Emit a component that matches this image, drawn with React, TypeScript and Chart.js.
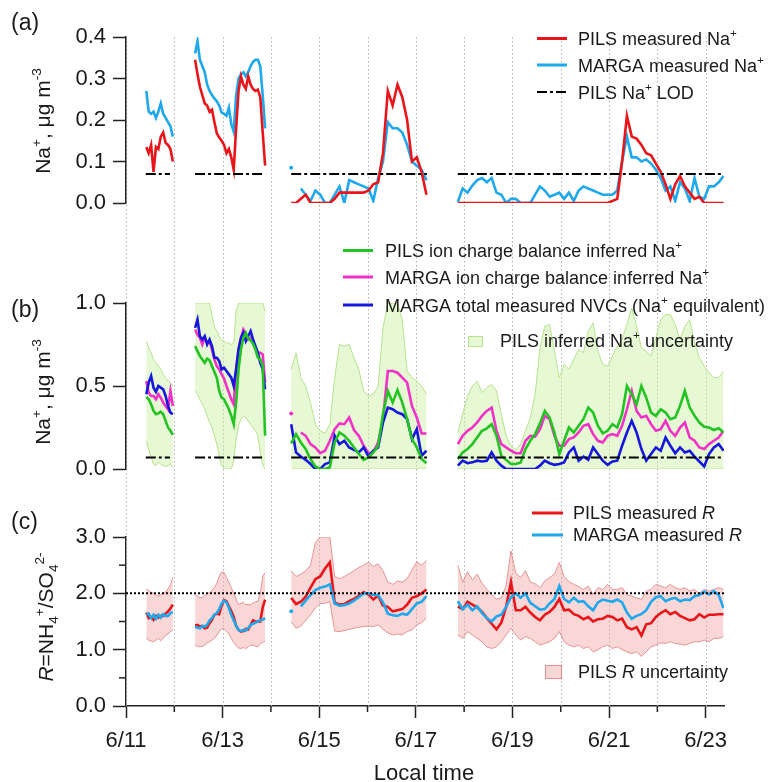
import React, { useEffect, useRef } from "react";
import { Chart, registerables } from "chart.js";

Chart.register(...registerables);

const FONT = "'Liberation Sans', Arial, Helvetica, sans-serif";
const TEXT = "#1a1a1a";
const AXIS = "#222222";

// ---------- time axis (days since 6/11 00:00) ----------
const X_MAX = 12.38;
const DAY_LABELS = ["6/11", "6/12", "6/13", "6/14", "6/15", "6/16", "6/17", "6/18", "6/19", "6/20", "6/21", "6/22", "6/23"];
// sampling of the measured series: four measurement periods
const SEG_START = [0.42, 1.43, 3.42, 6.87];
const SEG_STEP = [0.05, 0.05, 0.1, 0.1];

// ---------- panel (a): measured Na+ (ug m-3) ----------
const pilsNa = [
  [0.135, 0.12, 0.14, 0.075, 0.135, 0.13, 0.16, 0.17, 0.145, 0.14, 0.13, 0.1],
  [0.345, 0.31, 0.28, 0.26, 0.24, 0.235, 0.22, 0.225, 0.195, 0.168, 0.158, 0.15, 0.14, 0.12, 0.13, 0.11, 0.08, 0.18, 0.27, 0.305, 0.285, 0.275, 0.305, 0.285, 0.275, 0.27, 0.273, 0.255, 0.17, 0.09],
  [0, 0, 0.01, 0.02, 0, 0, 0, 0, 0, 0.01, 0.025, 0.025, 0.025, 0.025, 0.025, 0.025, 0.03, 0.045, 0.05, 0.12, 0.27, 0.235, 0.285, 0.255, 0.2, 0.1, 0.11, 0.075, 0.02],
  [0, 0, 0, 0, 0, 0, 0, 0, 0, 0, 0, 0, 0, 0, 0, 0, 0, 0, 0, 0, 0, 0, 0, 0, 0, 0, 0, 0, 0, 0, 0, 0,
    0.005, 0.01, 0.1, 0.21, 0.16, 0.155, 0.14, 0.12, 0.115, 0.095, 0.075, 0.045, 0.01, 0.045, 0.065, 0.04, 0.025, 0.01, 0.015, 0, 0, 0, 0, 0],
];
const margaNa = [
  [0.27, 0.22, 0.215, 0.22, 0.205, 0.22, 0.24, 0.215, 0.205, 0.195, 0.185, 0.16],
  [0.36, 0.39, 0.345, 0.33, 0.315, 0.285, 0.27, 0.26, 0.252, 0.245, 0.235, 0.218, 0.215, 0.21, 0.23, 0.19, 0.172, 0.26, 0.3, 0.31, 0.315, 0.305, 0.315, 0.33, 0.34, 0.345, 0.345, 0.33, 0.26, 0.18],
  [0.085, null, 0.035, 0.02, 0.005, 0.03, 0.02, 0, 0, 0.02, 0.04, 0, 0.055, 0.05, 0.045, 0.04, 0.035, 0.005, 0.06, 0.1, 0.195, 0.18, 0.18, 0.17, 0.14, 0.1, 0.09, 0.08, 0.055],
  [0.003, 0.035, 0.025, 0.042, 0.055, 0.06, 0.05, 0.06, 0.025, 0.02, 0, 0.01, 0.01, 0, 0, 0, 0.02, 0.04, 0.03, 0.015, 0.02, 0.025, 0.01, 0.025, 0.005, 0.03, 0.04, 0.035, 0.03, 0.025, 0.02, 0.02, 0.02, 0.03, 0.1, 0.16, 0.11, 0.11, 0.1, 0.105, 0.095, 0.08, 0.06, 0.03, 0.04, 0.005, 0.05, 0.035, 0.005, 0.06, 0.015, 0.01, 0.04, 0.04, 0.05, 0.065],
];
const NA_LOD = 0.07;
const LOD_START = [0.41, 1.43, 3.42, 6.87];
const LOD_END = [0.91, 2.88, 6.23, 12.34];

// ---------- panel (b): inferred Na+ ----------
const pilsInferred = [
  [0.435, 0.42, 0.39, 0.35, 0.33, 0.335, 0.345, 0.33, 0.29, 0.25, 0.23, 0.205],
  [0.74, 0.71, 0.68, 0.66, 0.64, 0.665, 0.655, 0.62, 0.585, 0.55, 0.47, 0.43, 0.42, 0.39, 0.36, 0.32, 0.27, 0.4, 0.6, 0.72, 0.79, 0.82, 0.785, 0.775, 0.755, 0.72, 0.67, 0.66, 0.62, 0.2],
  [0.155, 0.21, 0.16, 0.12, 0.06, 0.015, 0, 0, 0.01, 0.16, 0.22, 0.2, 0.17, 0.13, 0.09, 0.055, 0.07, 0.1, 0.14, 0.33, 0.47, 0.4, 0.475, 0.4, 0.3, 0.18, 0.13, 0.06, 0.035],
  [0.06, 0.1, 0.12, 0.15, 0.19, 0.23, 0.245, 0.27, 0.2, 0.08, 0.055, 0.03, 0.03, 0.04, 0.12, 0.17, 0.21, 0.275, 0.35, 0.31, 0.22, 0.09, 0.17, 0.25, 0.22, 0.26, 0.3, 0.37, 0.34, 0.26, 0.215, 0.23, 0.27, 0.25, 0.33, 0.5, 0.45, 0.39, 0.5, 0.43, 0.34, 0.32, 0.36, 0.34, 0.3, 0.31, 0.38, 0.47, 0.37, 0.32, 0.28, 0.255, 0.25, 0.235, 0.245, 0.22],
];
const margaInferred = [
  [0.53, 0.46, 0.44, 0.44, 0.42, 0.45, 0.43, 0.4, 0.38, 0.36, 0.47, 0.38],
  [0.84, 0.81, 0.79, 0.75, 0.79, 0.76, 0.77, 0.72, 0.66, 0.62, 0.6, 0.57, 0.545, 0.5, 0.46, 0.42, 0.39, 0.6, 0.72, 0.79, 0.84, 0.815, 0.78, 0.79, 0.76, 0.73, 0.7, 0.7, 0.69, 0.52],
  [0.335, null, 0.22, 0.2, 0.15, 0.13, 0.095, 0.11, 0.17, 0.24, 0.275, 0.27, 0.31, 0.235, 0.2, 0.14, 0.095, 0.1, 0.16, 0.3, 0.59, 0.59, 0.58, 0.55, 0.52, 0.38, 0.31, 0.214, 0.214],
  [0.15, 0.2, 0.23, 0.25, 0.28, 0.32, 0.35, 0.37, 0.23, 0.15, 0.13, 0.11, 0.095, 0.095, 0.17, 0.2, 0.195, 0.24, 0.32, 0.3, 0.2, 0.14, 0.14, 0.18, 0.19, 0.22, 0.26, 0.27, 0.21, 0.17, 0.16, 0.2, 0.21, 0.2, 0.26, 0.36, 0.47, 0.35, 0.31, 0.32, 0.27, 0.23, 0.24, 0.29, 0.23, 0.2, 0.25, 0.28, 0.19, 0.17, 0.13, 0.12, 0.15, 0.17, 0.19, 0.23],
];
const margaNVC = [
  [0.45, 0.52, 0.56, 0.49, 0.465, 0.5, 0.49, 0.48, 0.44, 0.38, 0.34, 0.33],
  [0.85, 0.9, 0.8, 0.78, 0.8, 0.75, 0.78, 0.74, 0.67, 0.67, 0.65, 0.6, 0.61, 0.59, 0.57, 0.55, 0.5, 0.6, 0.72, 0.79, 0.82, 0.77, 0.8, 0.83, 0.78, 0.74, 0.7, 0.64, 0.6, 0.48],
  [0.27, 0.1, 0.075, 0.055, 0.03, 0, 0, 0.03, 0.04, 0.2, 0.15, 0.17, 0.13, 0.115, 0.1, 0.13, 0.075, 0.11, 0.13, 0.28, 0.37, 0.36, 0.34, 0.33, 0.3, 0.18, 0.24, 0.08, 0.11],
  [0.02, 0.05, 0.035, 0.04, 0.05, 0.045, 0.05, 0.1, 0.05, 0.02, 0, 0, 0, 0, 0, 0, 0, 0.02, 0.05, 0.035, 0.025, 0.03, 0.04, 0.1, 0.13, 0.05, 0.075, 0.055, 0.13, 0.09, 0.05, 0.025, 0.045, 0.05, 0.14, 0.22, 0.29, 0.22, 0.12, 0.05, 0.09, 0.13, 0.11, 0.19, 0.14, 0.095, 0.13, 0.1, 0.11, 0.075, 0.045, 0.015, 0.09, 0.13, 0.15, 0.11],
];
const pilsInferredLow = [
  [0.17, 0.12, 0.07, 0.03, 0.02, 0.04, 0.03, 0.02, 0.015, 0.02, 0.03, 0.01],
  [0.47, 0.45, 0.42, 0.39, 0.36, 0.32, 0.28, 0.25, 0.2, 0.15, 0.08, 0.02, 0, 0, 0, 0, 0.05, 0.18, 0.26, 0.3, 0.32, 0.31, 0.29, 0.27, 0.25, 0.23, 0.2, 0.1, 0.02, 0],
  [0, 0, 0, 0, 0, 0, 0, 0, 0, 0, 0, 0, 0, 0, 0, 0, 0, 0, 0, 0, 0, 0, 0, 0, 0, 0, 0, 0, 0],
  [0, 0, 0, 0, 0, 0, 0, 0, 0, 0, 0, 0, 0, 0, 0, 0, 0, 0, 0, 0, 0, 0, 0, 0, 0, 0, 0, 0, 0, 0, 0, 0, 0, 0, 0, 0, 0, 0, 0, 0, 0, 0, 0, 0, 0, 0, 0, 0, 0, 0, 0, 0, 0, 0, 0, 0],
];
const pilsInferredHigh = [
  [0.77, 0.73, 0.7, 0.66, 0.64, 0.62, 0.6, 0.57, 0.55, 0.53, 0.52, 0.5],
  [1, 1, 1, 1, 1, 1, 1, 0.93, 0.86, 0.83, 0.8, 0.78, 0.77, 0.76, 0.76, 0.75, 0.76, 0.95, 1, 1, 1, 1, 1, 1, 1, 1, 1, 1, 1, 0.95],
  [0.6, 0.7, 0.55, 0.5, 0.4, 0.27, 0.23, 0.215, 0.27, 0.55, 0.75, 0.74, 0.75, 0.67, 0.6, 0.47, 0.44, 0.45, 0.5, 0.85, 1, 1, 1, 0.9, 0.59, 0.55, 0.53, 0.5, 0.45],
  [0.22, 0.33, 0.44, 0.5, 0.53, 0.46, 0.49, 0.51, 0.47, 0.33, 0.2, 0.14, 0.115, 0.15, 0.23, 0.31, 0.45, 0.73, 0.86, 0.87, 0.71, 0.55, 0.63, 0.6, 0.66, 0.72, 0.7, 0.83, 0.88, 0.71, 0.63, 0.62, 0.68, 0.74, 0.78, 0.87, 0.97, 0.86, 0.73, 0.71, 0.68, 0.79, 0.9, 0.93, 0.93, 0.87, 0.78, 0.86, 0.9, 0.76, 0.67, 0.62, 0.58, 0.55, 0.55, 0.59],
];

// ---------- panel (c): R = NH4+/SO4 2- ----------
const pilsR = [
  [1.66, 1.56, 1.58, 1.53, 1.6, 1.57, 1.6, 1.6, 1.64, 1.68, 1.73, 1.8],
  [1.43, 1.44, 1.41, 1.42, 1.38, 1.39, 1.47, 1.53, 1.62, 1.64, 1.63, 1.78, 1.88, 1.86, 1.77, 1.68, 1.58, 1.42, 1.35, 1.32, 1.33, 1.37, 1.36, 1.44, 1.52, 1.5, 1.5, 1.5, 1.75, 1.89],
  [1.92, 1.81, 1.85, 1.94, 2.1, 2.25, 2.3, 2.44, 2.55, 1.84, 1.8, 1.81, 1.86, 1.9, 1.96, 2.02, 1.98, 1.89, 1.96, 1.78, 1.76, 1.68, 1.7, 1.72, 1.8, 1.92, 1.95, 2.0, 2.07],
  [1.77, 1.72, 1.85, 1.8, 1.75, 1.67, 1.56, 1.46, 1.36, 1.48, 1.76, 2.2, 1.7, 1.7, 1.76, 1.66, 1.58, 1.52, 1.62, 1.67, 1.76, 1.9, 1.7, 1.71, 1.63, 1.6, 1.54, 1.58, 1.5, 1.54, 1.55, 1.6, 1.58, 1.52, 1.55, 1.4, 1.36, 1.4, 1.25, 1.45, 1.47, 1.58, 1.65, 1.7, 1.63, 1.67, 1.6, 1.56, 1.52, 1.54, 1.63, 1.57, 1.62, 1.62, 1.63, 1.63],
];
const margaR = [
  [1.62, 1.64, 1.56, 1.62, 1.55, 1.62, 1.57, 1.63, 1.6, 1.6, 1.65, 1.67],
  [1.41, 1.39, 1.38, 1.42, 1.41, 1.44, 1.52, 1.56, 1.62, 1.65, 1.72, 1.82, 1.87, 1.84, 1.74, 1.62, 1.52, 1.42, 1.35, 1.33, 1.35, 1.34, 1.38, 1.44, 1.46, 1.48, 1.5, 1.53, 1.53, 1.56],
  [1.68, null, 1.77, 1.87, 1.97, 2.06, 2.1, 2.12, 2.16, 1.82, 1.78, 1.79, 1.82, 1.87, 1.93, 2.0, 2.0, 1.97, 1.97, 1.84, 1.64, 1.61, 1.6, 1.64, 1.62, 1.72, 1.82, 1.85, 1.95],
  [1.86, 1.72, 1.8, 1.7, 1.77, 1.65, 1.56, 1.5, 1.59, 1.62, 1.76, 1.93, 2.0, 1.92, 2.0, 1.83, 1.77, 1.71, 1.72, 1.82, 1.9, 2.13, 1.9, 1.84, 1.92, 1.85, 1.86, 1.77, 1.7, 1.84, 1.89, 1.87, 1.85, 1.89, 1.84, 1.66, 1.55, 1.6, 1.63, 1.7, 1.85, 1.93, 1.95, 1.86, 1.9, 1.92, 1.86, 1.89, 1.88, 1.95, 1.97, 2.03, 1.98, 2.04, 1.97, 1.74],
];
const pilsRLow = [
  [1.2, 1.17, 1.15, 1.14, 1.17, 1.2, 1.16, 1.2, 1.25, 1.28, 1.32, 1.35],
  [1.08, 1.06, 1.05, 1.06, 1.08, 1.12, 1.14, 1.17, 1.2, 1.26, 1.32, 1.37, 1.37, 1.33, 1.28, 1.2, 1.13, 1.07, 1.03, 1.02, 1.04, 1.02, 1.05, 1.08, 1.08, 1.06, 1.05, 1.1, 1.13, 1.15],
  [1.5, 1.38, 1.42, 1.52, 1.62, 1.74, 1.82, 1.82, 1.86, 1.33, 1.32, 1.34, 1.36, 1.38, 1.4, 1.41, 1.42, 1.41, 1.44, 1.36, 1.3, 1.26, 1.28, 1.26, 1.32, 1.35, 1.44, 1.48, 1.56],
  [1.26, 1.2, 1.32, 1.26, 1.2, 1.14, 1.05, 1.02, 1.05, 1.14, 1.26, 1.38, 1.26, 1.17, 1.23, 1.2, 1.14, 1.08, 1.11, 1.14, 1.2, 1.32, 1.14, 1.08, 1.05, 1.08, 1.02, 1.05, 0.96, 1.0, 1.05, 1.08, 1.02, 1.05, 1.0, 0.96, 0.93, 0.96, 0.88, 0.96, 1.05, 1.08, 1.12, 1.11, 1.14, 1.11, 1.1, 1.08, 1.11, 1.14, 1.14, 1.17, 1.14, 1.2, 1.2, 1.23],
];
const pilsRHigh = [
  [2.07, 2.05, 2.02, 2.0, 1.97, 1.95, 1.98, 2.0, 2.02, 2.08, 2.15, 2.28],
  [1.98, 1.95, 1.92, 1.93, 1.96, 1.99, 2.01, 2.06, 2.1, 2.18, 2.3, 2.38, 2.37, 2.28, 2.2, 2.1, 2.0, 1.9, 1.8, 1.82, 1.84, 1.8, 1.8, 1.8, 1.82, 1.85, 1.86, 2.0, 2.3, 2.37],
  [2.4, 2.3, 2.34, 2.4, 2.5, 2.9, 3.0, 3.0, 3.0, 2.3, 2.26, 2.3, 2.35, 2.4, 2.46, 2.5, 2.55, 2.48, 2.52, 2.4, 2.2, 2.16, 2.22, 2.2, 2.26, 2.42, 2.56, 2.5, 2.58],
  [2.5, 2.2, 2.38, 2.24, 2.34, 2.18, 2.07, 1.98, 1.9, 1.92, 2.14, 2.75, 2.36, 2.28, 2.4, 2.2, 2.17, 2.1, 2.22, 2.28, 2.34, 2.55, 2.3, 2.21, 2.16, 2.12, 2.07, 2.13, 1.98, 2.1, 2.07, 2.16, 2.07, 2.07, 2.1, 1.98, 1.95, 1.92, 1.89, 2.04, 2.07, 2.16, 2.13, 2.1, 2.16, 2.1, 2.07, 2.1, 2.04, 2.07, 2.0, 2.07, 2.04, 2.07, 2.1, 2.07],
];
const R_NEUTRAL = 2.0;

// ---------- colours ----------
const RED = "#e8161b";
const LIGHTBLUE = "#1fa8ec";
const GREEN = "#22c322";
const MAGENTA = "#f032c8";
const DARKBLUE = "#1616dc";
const GREEN_FILL = "rgba(200,240,160,0.45)";
const GREEN_EDGE = "#b7e28f";
const PINK_FILL = "rgba(242,160,160,0.42)";
const PINK_EDGE = "rgba(222,120,120,0.75)";

// ---------- layout (pixel frame of the figure) ----------
const W = 771;
const H = 782;
const PLOT_LEFT = 126;
const PLOT_RIGHT_PAD = 47;
const GRID_TOP = 37;

type P = { x: number; y: number | null };

function toPoints(segs: (number | null)[][]): P[] {
  const out: P[] = [];
  segs.forEach((vals, s) => {
    if (s > 0) out.push({ x: SEG_START[s] - 0.01, y: null });
    vals.forEach((v, i) => out.push({ x: Math.round((SEG_START[s] + i * SEG_STEP[s]) * 1000) / 1000, y: v }));
  });
  return out;
}

function lodPoints(level: number): P[] {
  const out: P[] = [];
  LOD_START.forEach((s, i) => {
    if (i > 0) out.push({ x: s - 0.01, y: null });
    out.push({ x: s, y: level });
    out.push({ x: LOD_END[i], y: level });
  });
  return out;
}

const isolatedRadius = (ctx: any) => {
  const d = ctx.dataset.data as P[];
  const i = ctx.dataIndex;
  const cur = d[i];
  if (!cur || cur.y == null) return 0;
  const p = d[i - 1];
  const n = d[i + 1];
  return (!p || p.y == null) && (!n || n.y == null) ? 2 : 0;
};

function lineDs(data: P[], color: string, width: number, extra: any = {}) {
  return {
    type: "line",
    data,
    borderColor: color,
    backgroundColor: color,
    borderWidth: width,
    pointRadius: isolatedRadius,
    pointHoverRadius: 0,
    pointBorderWidth: 0,
    pointBackgroundColor: color,
    spanGaps: false,
    fill: false,
    tension: 0,
    ...extra,
  };
}

function xScale(show: boolean) {
  const s: any = {
    type: "linear",
    min: 0,
    max: X_MAX,
    bounds: "data",
    display: show,
    border: { display: true, color: AXIS, width: 1.5 },
    grid: {
      display: true,
      drawOnChartArea: false,
      drawTicks: true,
      tickLength: 12,
      tickWidth: 1.5,
      tickColor: (c: any) =>
        c.tick && Number.isInteger(c.tick.value) && c.tick.value % 2 === 0 ? AXIS : "rgba(0,0,0,0)",
    },
    ticks: {
      stepSize: 1,
      includeBounds: false,
      autoSkip: false,
      maxRotation: 0,
      minRotation: 0,
      padding: 10,
      color: TEXT,
      font: { family: FONT, size: 22 },
      callback: (v: any) => (Number.isInteger(v) && v % 2 === 0 ? DAY_LABELS[v] : ""),
    },
  };
  if (show) {
    s.afterFit = (sc: any) => {
      sc.height = 76;
    };
  }
  return s;
}

function yScale(min: number, max: number, step: number, majorOnly: boolean) {
  const isMajor = (v: number) => !majorOnly || Math.abs(v - Math.round(v)) < 1e-6;
  return {
    type: "linear",
    min,
    max,
    afterFit: (s: any) => {
      s.width = PLOT_LEFT;
    },
    border: { display: true, color: AXIS, width: 1.5 },
    grid: {
      display: true,
      drawOnChartArea: false,
      drawTicks: true,
      tickLength: 13,
      tickWidth: 1.5,
      tickColor: (c: any) => (c.tick && isMajor(c.tick.value) ? AXIS : "rgba(0,0,0,0)"),
    },
    ticks: {
      stepSize: step,
      autoSkip: false,
      padding: 7,
      color: TEXT,
      font: { family: FONT, size: 22 },
      callback: (v: any) => (isMajor(v) ? Number(v).toFixed(1) : ""),
    },
  };
}

// ---------- rich text helpers ----------
type Run = { t: string; k?: "sup" | "sub" | "it" };

function fontOf(k: Run["k"], size: number) {
  const s = k === "sup" || k === "sub" ? size * 0.65 : size;
  return `${k === "it" ? "italic " : ""}${s}px ${FONT}`;
}

function drawRich(ctx: CanvasRenderingContext2D, runs: Run[], x: number, y: number, size: number, align: "left" | "center" = "left", rotate = false) {
  ctx.save();
  ctx.fillStyle = TEXT;
  ctx.textBaseline = "alphabetic";
  ctx.textAlign = "left";
  if (rotate) {
    ctx.translate(x, y);
    ctx.rotate(-Math.PI / 2);
    x = 0;
    y = 0;
  }
  let w = 0;
  for (const r of runs) {
    ctx.font = fontOf(r.k, size);
    w += ctx.measureText(r.t).width;
  }
  let cx = align === "center" ? x - w / 2 : x;
  for (const r of runs) {
    ctx.font = fontOf(r.k, size);
    const dy = r.k === "sup" ? -0.42 * size : r.k === "sub" ? 0.22 * size : 0;
    ctx.fillText(r.t, cx, y + dy);
    cx += ctx.measureText(r.t).width;
  }
  ctx.restore();
}

function legendLine(ctx: CanvasRenderingContext2D, x1: number, x2: number, y: number, color: string, width: number, dash: number[] = []) {
  ctx.save();
  ctx.strokeStyle = color;
  ctx.lineWidth = width;
  ctx.setLineDash(dash);
  ctx.beginPath();
  ctx.moveTo(x1, y);
  ctx.lineTo(x2, y);
  ctx.stroke();
  ctx.restore();
}

function legendBox(ctx: CanvasRenderingContext2D, x: number, y: number, w: number, h: number, fill: string, edge: string) {
  ctx.save();
  ctx.fillStyle = fill;
  ctx.fillRect(x, y, w, h);
  ctx.strokeStyle = edge;
  ctx.lineWidth = 1;
  ctx.strokeRect(x + 0.5, y + 0.5, w - 1, h - 1);
  ctx.restore();
}

const LOD_DASH = [10, 3, 3, 3];
const NA_TITLE: Run[] = [{ t: "Na" }, { t: "+", k: "sup" }, { t: ", \u03bcg m" }, { t: "-3", k: "sup" }];

// vertical dotted day lines spanning all panels (drawn in bottom chart)
const dayGridPlugin = {
  id: "dayGrid",
  beforeDatasetsDraw(chart: any) {
    const x = chart.scales.x;
    const { ctx, chartArea } = chart;
    ctx.save();
    ctx.strokeStyle = "#b0b0b0";
    ctx.lineWidth = 1;
    ctx.setLineDash([1.5, 2.5]);
    for (let d = 0; d < DAY_LABELS.length; d++) {
      const px = Math.round(x.getPixelForValue(d)) + 0.5;
      ctx.beginPath();
      ctx.moveTo(px, GRID_TOP);
      ctx.lineTo(px, chartArea.bottom);
      ctx.stroke();
    }
    ctx.restore();
  },
};

const minorTickPlugin = {
  id: "minorTicks",
  afterDraw(chart: any) {
    const { ctx, chartArea } = chart;
    const x = chart.scales.x;
    const y = chart.scales.y;
    ctx.save();
    ctx.strokeStyle = AXIS;
    ctx.lineWidth = 1.5;
    for (let d = 1; d < DAY_LABELS.length; d += 2) {
      const px = x.getPixelForValue(d);
      ctx.beginPath();
      ctx.moveTo(px, chartArea.bottom);
      ctx.lineTo(px, chartArea.bottom + 6);
      ctx.stroke();
    }
    for (const v of [0.5, 1.5, 2.5]) {
      const py = y.getPixelForValue(v);
      ctx.beginPath();
      ctx.moveTo(chartArea.left - 7, py);
      ctx.lineTo(chartArea.left, py);
      ctx.stroke();
    }
    ctx.restore();
  },
};

const textA = {
  id: "textA",
  afterDraw(chart: any) {
    const ctx = chart.ctx as CanvasRenderingContext2D;
    drawRich(ctx, [{ t: "(a)" }], 11, 30, 23);
    drawRich(ctx, NA_TITLE, 50, 121, 21, "center", true);
    legendLine(ctx, 537, 567, 38.5, RED, 3);
    drawRich(ctx, [{ t: "PILS measured Na" }, { t: "+", k: "sup" }], 578, 45, 18);
    legendLine(ctx, 537, 567, 65, LIGHTBLUE, 3);
    drawRich(ctx, [{ t: "MARGA measured Na" }, { t: "+", k: "sup" }], 578, 71.5, 18);
    legendLine(ctx, 537, 567, 92, "#000", 2, LOD_DASH);
    drawRich(ctx, [{ t: "PILS Na" }, { t: "+", k: "sup" }, { t: " LOD" }], 578, 98.5, 18);
  },
};

const textB = {
  id: "textB",
  afterDraw(chart: any) {
    const ctx = chart.ctx as CanvasRenderingContext2D;
    drawRich(ctx, [{ t: "(b)" }], 11, 317, 23);
    drawRich(ctx, NA_TITLE, 50, 392, 21, "center", true);
    legendLine(ctx, 343, 373, 250.5, GREEN, 3);
    drawRich(ctx, [{ t: "PILS ion charge balance inferred Na" }, { t: "+", k: "sup" }], 385, 257, 18);
    legendLine(ctx, 343, 373, 277, MAGENTA, 3);
    drawRich(ctx, [{ t: "MARGA ion charge balance inferred Na" }, { t: "+", k: "sup" }], 385, 283.5, 18);
    legendLine(ctx, 343, 373, 305, DARKBLUE, 3);
    drawRich(ctx, [{ t: "MARGA total measured NVCs (Na" }, { t: "+", k: "sup" }, { t: " equilvalent)" }], 385, 311.5, 18);
    legendBox(ctx, 468, 336, 15, 11, GREEN_FILL, GREEN_EDGE);
    drawRich(ctx, [{ t: "PILS inferred Na" }, { t: "+", k: "sup" }, { t: " uncertainty" }], 500, 347, 18);
  },
};

const textC = {
  id: "textC",
  afterDraw(chart: any) {
    const ctx = chart.ctx as CanvasRenderingContext2D;
    drawRich(ctx, [{ t: "(c)" }], 11, 529, 23);
    drawRich(
      ctx,
      [{ t: "R", k: "it" }, { t: "=NH" }, { t: "4", k: "sub" }, { t: "+", k: "sup" }, { t: "/SO" }, { t: "4", k: "sub" }, { t: "2-", k: "sup" }],
      53,
      617,
      21,
      "center",
      true
    );
    legendLine(ctx, 532, 563, 513, RED, 3);
    drawRich(ctx, [{ t: "PILS measured " }, { t: "R", k: "it" }], 573, 519, 18);
    legendLine(ctx, 532, 563, 535, LIGHTBLUE, 3);
    drawRich(ctx, [{ t: "MARGA measured " }, { t: "R", k: "it" }], 573, 541, 18);
    legendBox(ctx, 545, 665, 17, 14, PINK_FILL, PINK_EDGE);
    drawRich(ctx, [{ t: "PILS " }, { t: "R", k: "it" }, { t: " uncertainty" }], 578, 678, 18);
    drawRich(ctx, [{ t: "Local time" }], 424, 780, 22, "center");
  },
};

const baseOptions = (top: number, bottom: number) => ({
  responsive: false,
  animation: false,
  events: [],
  layout: { padding: { top, bottom, left: 0, right: PLOT_RIGHT_PAD } },
  plugins: { legend: { display: false }, tooltip: { enabled: false }, title: { display: false } },
});

function configA(): any {
  return {
    type: "line",
    data: {
      datasets: [
        lineDs(lodPoints(NA_LOD), "#000", 2, { borderDash: LOD_DASH }),
        lineDs(toPoints(pilsNa), RED, 2.6),
        lineDs(toPoints(margaNa), LIGHTBLUE, 2.6),
      ],
    },
    options: { ...baseOptions(37, H - 203), scales: { x: xScale(false), y: yScale(0, 0.4, 0.1, false) } },
    plugins: [textA],
  };
}

function configB(): any {
  return {
    type: "line",
    data: {
      datasets: [
        lineDs(lodPoints(NA_LOD), "#000", 2, { borderDash: LOD_DASH }),
        lineDs(toPoints(pilsInferred), GREEN, 2.6),
        lineDs(toPoints(margaNVC), DARKBLUE, 2.6),
        lineDs(toPoints(margaInferred), MAGENTA, 2.6),
        lineDs(toPoints(pilsInferredLow), GREEN_EDGE, 1, { pointRadius: 0 }),
        lineDs(toPoints(pilsInferredHigh), GREEN_EDGE, 1, { pointRadius: 0, fill: "-1", backgroundColor: GREEN_FILL }),
      ],
    },
    options: { ...baseOptions(303, H - 469), scales: { x: xScale(false), y: yScale(0, 1.0, 0.5, false) } },
    plugins: [textB],
  };
}

function configC(): any {
  return {
    type: "line",
    data: {
      datasets: [
        lineDs(
          [
            { x: 0, y: R_NEUTRAL },
            { x: X_MAX, y: R_NEUTRAL },
          ],
          "#000",
          2,
          { borderDash: [2, 2], pointRadius: 0 }
        ),
        lineDs(toPoints(margaR), LIGHTBLUE, 2.6),
        lineDs(toPoints(pilsR), RED, 2.6),
        lineDs(toPoints(pilsRLow), PINK_EDGE, 1, { pointRadius: 0 }),
        lineDs(toPoints(pilsRHigh), PINK_EDGE, 1, { pointRadius: 0, fill: "-1", backgroundColor: PINK_FILL }),
      ],
    },
    options: { ...baseOptions(537, 0), scales: { x: xScale(true), y: yScale(0, 3, 0.5, true) } },
    plugins: [dayGridPlugin, minorTickPlugin, textC],
  };
}

export default function App() {
  const refA = useRef<HTMLCanvasElement>(null);
  const refB = useRef<HTMLCanvasElement>(null);
  const refC = useRef<HTMLCanvasElement>(null);

  useEffect(() => {
    Chart.defaults.font.family = FONT;
    const charts: Chart[] = [];
    if (refC.current) charts.push(new Chart(refC.current, configC()));
    if (refB.current) charts.push(new Chart(refB.current, configB()));
    if (refA.current) charts.push(new Chart(refA.current, configA()));
    return () => charts.forEach((c) => c.destroy());
  }, []);

  const cs: React.CSSProperties = { position: "absolute", left: 0, top: 0 };
  return (
    <div style={{ position: "absolute", left: 0, top: 0, width: W, height: H, background: "#fff", overflow: "hidden" }}>
      <canvas ref={refC} width={W} height={H} style={cs} />
      <canvas ref={refB} width={W} height={H} style={cs} />
      <canvas ref={refA} width={W} height={H} style={cs} />
    </div>
  );
}
